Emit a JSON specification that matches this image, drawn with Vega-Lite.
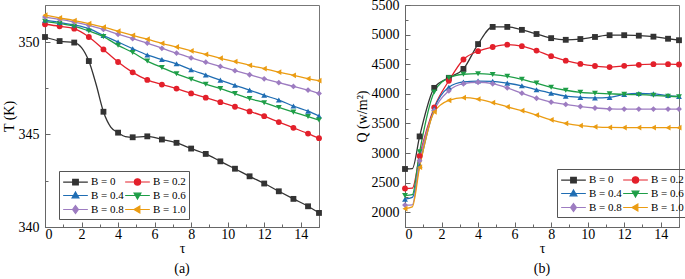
{
  "$schema": "https://vega.github.io/schema/vega-lite/v6.json",
  "padding": {"left": 1, "top": -3, "right": 0, "bottom": 0},
  "background": "white",
  "spacing": 31,
  "config": {
    "view": {"stroke": "#777", "strokeWidth": 1},
    "axis": {
      "grid": false,
      "domainColor": "#666",
      "tickColor": "#666",
      "labelFont": "Liberation Serif",
      "labelFontSize": 14,
      "labelColor": "black",
      "titleFont": "Liberation Serif",
      "titleFontSize": 14,
      "titleFontWeight": "normal",
      "titleColor": "black"
    },
    "title": {"font": "Liberation Serif", "fontSize": 14, "fontWeight": "normal", "color": "black"},
    "legend": {
      "labelFont": "Liberation Serif",
      "labelFontSize": 11,
      "labelColor": "black",
      "strokeColor": "#555",
      "padding": 3,
      "symbolSize": 169,
      "symbolStrokeWidth": 1.2,
      "symbolOffset": 6,
      "labelOffset": 8,
      "columnPadding": -12,
      "rowPadding": 0,
      "direction": "horizontal"
    }
  },
  "datasets": {
    "T": [
      {"t":0,"B":"B = 0","v":350.27,"m":1},{"t":0.8,"B":"B = 0","v":350.05,"m":1},{"t":1.6,"B":"B = 0","v":349.97,"m":1},{"t":2.0,"B":"B = 0","v":349.7,"m":0},{"t":2.4,"B":"B = 0","v":348.97,"m":1},{"t":2.8,"B":"B = 0","v":347.7,"m":0},{"t":3.2,"B":"B = 0","v":346.23,"m":1},{"t":3.6,"B":"B = 0","v":345.4,"m":0},{"t":4.0,"B":"B = 0","v":345.1,"m":1},{"t":4.4,"B":"B = 0","v":344.88,"m":0},{"t":4.8,"B":"B = 0","v":344.85,"m":1},{"t":5.6,"B":"B = 0","v":344.9,"m":1},{"t":6.4,"B":"B = 0","v":344.73,"m":1},{"t":7.2,"B":"B = 0","v":344.55,"m":1},{"t":8.0,"B":"B = 0","v":344.24,"m":1},{"t":8.8,"B":"B = 0","v":343.95,"m":1},{"t":9.6,"B":"B = 0","v":343.55,"m":1},{"t":10.4,"B":"B = 0","v":343.15,"m":1},{"t":11.2,"B":"B = 0","v":342.74,"m":1},{"t":12.0,"B":"B = 0","v":342.35,"m":1},{"t":12.8,"B":"B = 0","v":341.93,"m":1},{"t":13.6,"B":"B = 0","v":341.52,"m":1},{"t":14.4,"B":"B = 0","v":341.12,"m":1},{"t":15,"B":"B = 0","v":340.76,"m":1},

      {"t":0,"B":"B = 0.2","v":350.96,"m":1},{"t":0.8,"B":"B = 0.2","v":350.85,"m":1},{"t":1.6,"B":"B = 0.2","v":350.72,"m":1},{"t":2.4,"B":"B = 0.2","v":350.27,"m":1},{"t":3.2,"B":"B = 0.2","v":349.6,"m":1},{"t":4.0,"B":"B = 0.2","v":348.92,"m":1},{"t":4.8,"B":"B = 0.2","v":348.36,"m":1},{"t":5.6,"B":"B = 0.2","v":347.95,"m":1},{"t":6.4,"B":"B = 0.2","v":347.7,"m":1},{"t":7.2,"B":"B = 0.2","v":347.48,"m":1},{"t":8.0,"B":"B = 0.2","v":347.22,"m":1},{"t":8.8,"B":"B = 0.2","v":346.99,"m":1},{"t":9.6,"B":"B = 0.2","v":346.75,"m":1},{"t":10.4,"B":"B = 0.2","v":346.5,"m":1},{"t":11.2,"B":"B = 0.2","v":346.25,"m":1},{"t":12.0,"B":"B = 0.2","v":345.99,"m":1},{"t":12.8,"B":"B = 0.2","v":345.67,"m":1},{"t":13.6,"B":"B = 0.2","v":345.36,"m":1},{"t":14.4,"B":"B = 0.2","v":345.05,"m":1},{"t":15,"B":"B = 0.2","v":344.8,"m":1},

      {"t":0,"B":"B = 0.4","v":351.18,"m":1},{"t":0.8,"B":"B = 0.4","v":351.06,"m":1},{"t":1.6,"B":"B = 0.4","v":350.92,"m":1},{"t":2.4,"B":"B = 0.4","v":350.72,"m":1},{"t":3.2,"B":"B = 0.4","v":350.35,"m":1},{"t":4.0,"B":"B = 0.4","v":350.0,"m":1},{"t":4.8,"B":"B = 0.4","v":349.64,"m":1},{"t":5.6,"B":"B = 0.4","v":349.3,"m":1},{"t":6.4,"B":"B = 0.4","v":349.05,"m":1},{"t":7.2,"B":"B = 0.4","v":348.82,"m":1},{"t":8.0,"B":"B = 0.4","v":348.5,"m":1},{"t":8.8,"B":"B = 0.4","v":348.22,"m":1},{"t":9.6,"B":"B = 0.4","v":347.94,"m":1},{"t":10.4,"B":"B = 0.4","v":347.66,"m":1},{"t":11.2,"B":"B = 0.4","v":347.4,"m":1},{"t":12.0,"B":"B = 0.4","v":347.12,"m":1},{"t":12.8,"B":"B = 0.4","v":346.86,"m":1},{"t":13.6,"B":"B = 0.4","v":346.54,"m":1},{"t":14.4,"B":"B = 0.4","v":346.26,"m":1},{"t":15,"B":"B = 0.4","v":346.0,"m":1},

      {"t":0,"B":"B = 0.6","v":351.12,"m":1},{"t":0.8,"B":"B = 0.6","v":351.0,"m":1},{"t":1.6,"B":"B = 0.6","v":350.85,"m":1},{"t":2.4,"B":"B = 0.6","v":350.6,"m":1},{"t":3.2,"B":"B = 0.6","v":350.29,"m":1},{"t":4.0,"B":"B = 0.6","v":349.82,"m":1},{"t":4.8,"B":"B = 0.6","v":349.43,"m":1},{"t":5.6,"B":"B = 0.6","v":348.97,"m":1},{"t":6.4,"B":"B = 0.6","v":348.62,"m":1},{"t":7.2,"B":"B = 0.6","v":348.28,"m":1},{"t":8.0,"B":"B = 0.6","v":347.99,"m":1},{"t":8.8,"B":"B = 0.6","v":347.72,"m":1},{"t":9.6,"B":"B = 0.6","v":347.48,"m":1},{"t":10.4,"B":"B = 0.6","v":347.21,"m":1},{"t":11.2,"B":"B = 0.6","v":346.94,"m":1},{"t":12.0,"B":"B = 0.6","v":346.72,"m":1},{"t":12.8,"B":"B = 0.6","v":346.46,"m":1},{"t":13.6,"B":"B = 0.6","v":346.21,"m":1},{"t":14.4,"B":"B = 0.6","v":345.97,"m":1},{"t":15,"B":"B = 0.6","v":345.78,"m":1},

      {"t":0,"B":"B = 0.8","v":351.35,"m":1},{"t":0.8,"B":"B = 0.8","v":351.22,"m":1},{"t":1.6,"B":"B = 0.8","v":351.08,"m":1},{"t":2.4,"B":"B = 0.8","v":350.9,"m":1},{"t":3.2,"B":"B = 0.8","v":350.68,"m":1},{"t":4.0,"B":"B = 0.8","v":350.42,"m":1},{"t":4.8,"B":"B = 0.8","v":350.18,"m":1},{"t":5.6,"B":"B = 0.8","v":349.94,"m":1},{"t":6.4,"B":"B = 0.8","v":349.66,"m":1},{"t":7.2,"B":"B = 0.8","v":349.4,"m":1},{"t":8.0,"B":"B = 0.8","v":349.14,"m":1},{"t":8.8,"B":"B = 0.8","v":348.91,"m":1},{"t":9.6,"B":"B = 0.8","v":348.68,"m":1},{"t":10.4,"B":"B = 0.8","v":348.45,"m":1},{"t":11.2,"B":"B = 0.8","v":348.23,"m":1},{"t":12.0,"B":"B = 0.8","v":348.01,"m":1},{"t":12.8,"B":"B = 0.8","v":347.8,"m":1},{"t":13.6,"B":"B = 0.8","v":347.6,"m":1},{"t":14.4,"B":"B = 0.8","v":347.4,"m":1},{"t":15,"B":"B = 0.8","v":347.22,"m":1},

      {"t":0,"B":"B = 1.0","v":351.45,"m":1},{"t":0.8,"B":"B = 1.0","v":351.3,"m":1},{"t":1.6,"B":"B = 1.0","v":351.16,"m":1},{"t":2.4,"B":"B = 1.0","v":350.99,"m":1},{"t":3.2,"B":"B = 1.0","v":350.8,"m":1},{"t":4.0,"B":"B = 1.0","v":350.58,"m":1},{"t":4.8,"B":"B = 1.0","v":350.36,"m":1},{"t":5.6,"B":"B = 1.0","v":350.15,"m":1},{"t":6.4,"B":"B = 1.0","v":349.93,"m":1},{"t":7.2,"B":"B = 1.0","v":349.73,"m":1},{"t":8.0,"B":"B = 1.0","v":349.52,"m":1},{"t":8.8,"B":"B = 1.0","v":349.33,"m":1},{"t":9.6,"B":"B = 1.0","v":349.12,"m":1},{"t":10.4,"B":"B = 1.0","v":348.94,"m":1},{"t":11.2,"B":"B = 1.0","v":348.74,"m":1},{"t":12.0,"B":"B = 1.0","v":348.56,"m":1},{"t":12.8,"B":"B = 1.0","v":348.37,"m":1},{"t":13.6,"B":"B = 1.0","v":348.2,"m":1},{"t":14.4,"B":"B = 1.0","v":348.02,"m":1},{"t":15,"B":"B = 1.0","v":347.91,"m":1}
    ],
    "Q": [
      {"t":0,"B":"B = 0","v":2730,"m":1},{"t":0.4,"B":"B = 0","v":2735,"m":0},{"t":0.8,"B":"B = 0","v":3280,"m":1},{"t":1.6,"B":"B = 0","v":4100,"m":1},{"t":2.4,"B":"B = 0","v":4270,"m":1},{"t":3.2,"B":"B = 0","v":4420,"m":1},{"t":4.0,"B":"B = 0","v":4840,"m":1},{"t":4.8,"B":"B = 0","v":5130,"m":1},{"t":5.6,"B":"B = 0","v":5130,"m":1},{"t":6.4,"B":"B = 0","v":5080,"m":1},{"t":7.2,"B":"B = 0","v":5010,"m":1},{"t":8.0,"B":"B = 0","v":4940,"m":1},{"t":8.8,"B":"B = 0","v":4912,"m":1},{"t":9.6,"B":"B = 0","v":4925,"m":1},{"t":10.4,"B":"B = 0","v":4960,"m":1},{"t":11.2,"B":"B = 0","v":4990,"m":1},{"t":12.0,"B":"B = 0","v":4990,"m":1},{"t":12.8,"B":"B = 0","v":4982,"m":1},{"t":13.6,"B":"B = 0","v":4965,"m":1},{"t":14.4,"B":"B = 0","v":4930,"m":1},{"t":15,"B":"B = 0","v":4905,"m":1},

      {"t":0,"B":"B = 0.2","v":2400,"m":1},{"t":0.4,"B":"B = 0.2","v":2405,"m":0},{"t":0.8,"B":"B = 0.2","v":2950,"m":1},{"t":1.6,"B":"B = 0.2","v":3770,"m":1},{"t":2.4,"B":"B = 0.2","v":4220,"m":1},{"t":3.2,"B":"B = 0.2","v":4580,"m":1},{"t":4.0,"B":"B = 0.2","v":4720,"m":1},{"t":4.8,"B":"B = 0.2","v":4790,"m":1},{"t":5.6,"B":"B = 0.2","v":4830,"m":1},{"t":6.4,"B":"B = 0.2","v":4805,"m":1},{"t":7.2,"B":"B = 0.2","v":4730,"m":1},{"t":8.0,"B":"B = 0.2","v":4635,"m":1},{"t":8.8,"B":"B = 0.2","v":4560,"m":1},{"t":9.6,"B":"B = 0.2","v":4505,"m":1},{"t":10.4,"B":"B = 0.2","v":4470,"m":1},{"t":11.2,"B":"B = 0.2","v":4452,"m":1},{"t":12.0,"B":"B = 0.2","v":4472,"m":1},{"t":12.8,"B":"B = 0.2","v":4490,"m":1},{"t":13.6,"B":"B = 0.2","v":4500,"m":1},{"t":14.4,"B":"B = 0.2","v":4500,"m":1},{"t":15,"B":"B = 0.2","v":4495,"m":1},

      {"t":0,"B":"B = 0.4","v":2220,"m":1},{"t":0.4,"B":"B = 0.4","v":2250,"m":0},{"t":0.8,"B":"B = 0.4","v":2790,"m":1},{"t":1.6,"B":"B = 0.4","v":3750,"m":1},{"t":2.4,"B":"B = 0.4","v":4110,"m":1},{"t":3.2,"B":"B = 0.4","v":4200,"m":1},{"t":4.0,"B":"B = 0.4","v":4215,"m":1},{"t":4.8,"B":"B = 0.4","v":4210,"m":1},{"t":5.6,"B":"B = 0.4","v":4180,"m":1},{"t":6.4,"B":"B = 0.4","v":4135,"m":1},{"t":7.2,"B":"B = 0.4","v":4070,"m":1},{"t":8.0,"B":"B = 0.4","v":4010,"m":1},{"t":8.8,"B":"B = 0.4","v":3960,"m":1},{"t":9.6,"B":"B = 0.4","v":3940,"m":1},{"t":10.4,"B":"B = 0.4","v":3930,"m":1},{"t":11.2,"B":"B = 0.4","v":3940,"m":1},{"t":12.0,"B":"B = 0.4","v":3990,"m":1},{"t":12.8,"B":"B = 0.4","v":4005,"m":1},{"t":13.6,"B":"B = 0.4","v":4000,"m":1},{"t":14.4,"B":"B = 0.4","v":3970,"m":1},{"t":15,"B":"B = 0.4","v":3955,"m":1},

      {"t":0,"B":"B = 0.6","v":2280,"m":1},{"t":0.4,"B":"B = 0.6","v":2295,"m":0},{"t":0.8,"B":"B = 0.6","v":3020,"m":1},{"t":1.6,"B":"B = 0.6","v":4030,"m":1},{"t":2.4,"B":"B = 0.6","v":4270,"m":1},{"t":3.2,"B":"B = 0.6","v":4330,"m":1},{"t":4.0,"B":"B = 0.6","v":4340,"m":1},{"t":4.8,"B":"B = 0.6","v":4325,"m":1},{"t":5.6,"B":"B = 0.6","v":4295,"m":1},{"t":6.4,"B":"B = 0.6","v":4245,"m":1},{"t":7.2,"B":"B = 0.6","v":4180,"m":1},{"t":8.0,"B":"B = 0.6","v":4110,"m":1},{"t":8.8,"B":"B = 0.6","v":4060,"m":1},{"t":9.6,"B":"B = 0.6","v":4025,"m":1},{"t":10.4,"B":"B = 0.6","v":4010,"m":1},{"t":11.2,"B":"B = 0.6","v":4000,"m":1},{"t":12.0,"B":"B = 0.6","v":3990,"m":1},{"t":12.8,"B":"B = 0.6","v":3985,"m":1},{"t":13.6,"B":"B = 0.6","v":3975,"m":1},{"t":14.4,"B":"B = 0.6","v":3960,"m":1},{"t":15,"B":"B = 0.6","v":3950,"m":1},

      {"t":0,"B":"B = 0.8","v":2120,"m":1},{"t":0.4,"B":"B = 0.8","v":2125,"m":0},{"t":0.8,"B":"B = 0.8","v":2870,"m":1},{"t":1.6,"B":"B = 0.8","v":3720,"m":1},{"t":2.4,"B":"B = 0.8","v":4050,"m":1},{"t":3.2,"B":"B = 0.8","v":4170,"m":1},{"t":4.0,"B":"B = 0.8","v":4195,"m":1},{"t":4.8,"B":"B = 0.8","v":4170,"m":1},{"t":5.6,"B":"B = 0.8","v":4100,"m":1},{"t":6.4,"B":"B = 0.8","v":4010,"m":1},{"t":7.2,"B":"B = 0.8","v":3925,"m":1},{"t":8.0,"B":"B = 0.8","v":3860,"m":1},{"t":8.8,"B":"B = 0.8","v":3820,"m":1},{"t":9.6,"B":"B = 0.8","v":3785,"m":1},{"t":10.4,"B":"B = 0.8","v":3760,"m":1},{"t":11.2,"B":"B = 0.8","v":3745,"m":1},{"t":12.0,"B":"B = 0.8","v":3742,"m":1},{"t":12.8,"B":"B = 0.8","v":3742,"m":1},{"t":13.6,"B":"B = 0.8","v":3742,"m":1},{"t":14.4,"B":"B = 0.8","v":3742,"m":1},{"t":15,"B":"B = 0.8","v":3742,"m":1},

      {"t":0,"B":"B = 1.0","v":2060,"m":1},{"t":0.4,"B":"B = 1.0","v":2090,"m":0},{"t":0.8,"B":"B = 1.0","v":2760,"m":1},{"t":1.6,"B":"B = 1.0","v":3695,"m":1},{"t":2.4,"B":"B = 1.0","v":3890,"m":1},{"t":3.2,"B":"B = 1.0","v":3935,"m":1},{"t":4.0,"B":"B = 1.0","v":3910,"m":1},{"t":4.8,"B":"B = 1.0","v":3850,"m":1},{"t":5.6,"B":"B = 1.0","v":3780,"m":1},{"t":6.4,"B":"B = 1.0","v":3715,"m":1},{"t":7.2,"B":"B = 1.0","v":3640,"m":1},{"t":8.0,"B":"B = 1.0","v":3560,"m":1},{"t":8.8,"B":"B = 1.0","v":3500,"m":1},{"t":9.6,"B":"B = 1.0","v":3462,"m":1},{"t":10.4,"B":"B = 1.0","v":3442,"m":1},{"t":11.2,"B":"B = 1.0","v":3432,"m":1},{"t":12.0,"B":"B = 1.0","v":3430,"m":1},{"t":12.8,"B":"B = 1.0","v":3430,"m":1},{"t":13.6,"B":"B = 1.0","v":3430,"m":1},{"t":14.4,"B":"B = 1.0","v":3428,"m":1},{"t":15,"B":"B = 1.0","v":3428,"m":1}
    ]
  },
  "hconcat": [
    {
      "width": 274,
      "height": 222,
      "data": {"name": "T"},
      "title": {"text": "(a)", "orient": "bottom", "offset": 7},
      "encoding": {
        "x": {"field": "t", "type": "quantitative", "scale": {"domain": [0, 15], "nice": false, "zero": false},
          "axis": {"title": "τ", "values": [0,1,2,3,4,5,6,7,8,9,10,11,12,13,14,15],
            "labelExpr": "datum.value % 2 == 0 && datum.value < 15 ? datum.label : ''",
            "tickSize": {"condition": {"test": "datum.value % 2 != 0", "value": -3}, "value": -5},
            "labelPadding": 5, "titlePadding": 0}},
        "y": {"field": "v", "type": "quantitative", "scale": {"domain": [340, 352], "nice": false, "zero": false},
          "axis": {"title": "T (K)", "values": [340, 342.5, 345, 347.5, 350],
            "labelExpr": "datum.value % 5 == 0 ? datum.label : ''",
            "tickSize": {"condition": {"test": "datum.value % 5 != 0", "value": -3}, "value": -5},
            "labelPadding": 11, "titlePadding": 2}}
      },
      "layer": [
        {"mark": {"type": "line", "strokeWidth": 1.3, "interpolate": "monotone"},
          "encoding": {"color": {"field": "B", "type": "nominal", "legend": null,
            "scale": {"domain": ["B = 0","B = 0.2","B = 0.4","B = 0.6","B = 0.8","B = 1.0"], "range": ["#333333","#e3202b","#1f6db3","#1e9e47","#9d7cc1","#eb9c12"]}}}},
        {"transform": [{"filter": "datum.m == 1"}],
          "mark": {"type": "point", "filled": true, "size": 34, "opacity": 1},
          "encoding": {
            "color": {"field": "B", "type": "nominal", "legend": null},
            "shape": {"field": "B", "type": "nominal", "legend": null,
              "scale": {"domain": ["B = 0","B = 0.2","B = 0.4","B = 0.6","B = 0.8","B = 1.0"], "range": ["square","circle","triangle-up","triangle-down","diamond","triangle-left"]}}}},
        {"transform": [{"filter": "datum.m == 5"}],
          "mark": {"type": "point", "filled": true, "opacity": 1},
          "encoding": {
            "fill": {"field": "B", "type": "nominal",
              "scale": {"domain": ["B = 0","B = 0.2","B = 0.4","B = 0.6","B = 0.8","B = 1.0"], "range": ["#333333","#e3202b","#1f6db3","#1e9e47","#9d7cc1","#eb9c12"]},
              "legend": {"orient": "none", "legendX": 14, "legendY": 166, "columns": 2, "title": null}},
            "stroke": {"field": "B", "type": "nominal",
              "scale": {"domain": ["B = 0","B = 0.2","B = 0.4","B = 0.6","B = 0.8","B = 1.0"], "range": ["#333333","#e3202b","#1f6db3","#1e9e47","#9d7cc1","#eb9c12"]},
              "legend": {"orient": "none", "legendX": 14, "legendY": 166, "columns": 2, "title": null}},
            "shape": {"field": "B", "type": "nominal",
              "scale": {"domain": ["B = 0","B = 0.2","B = 0.4","B = 0.6","B = 0.8","B = 1.0"], "range": [
                "M-1.9,0H1.9M-0.43,-0.43H0.43V0.43H-0.43Z",
                "M-1.9,0H1.9M-0.48,0A0.48,0.48,0,1,0,0.48,0A0.48,0.48,0,1,0,-0.48,0Z",
                "M-1.9,0H1.9M0,-0.54L0.52,0.36H-0.52Z",
                "M-1.9,0H1.9M0,0.54L0.52,-0.36H-0.52Z",
                "M-1.9,0H1.9M0,-0.6L0.45,0L0,0.6L-0.45,0Z",
                "M-1.9,0H1.9M-0.54,0L0.36,-0.52V0.52Z"]},
              "legend": {"orient": "none", "legendX": 14, "legendY": 166, "columns": 2, "title": null}}}}
      ],
      "resolve": {"scale": {"shape": "independent", "fill": "independent", "stroke": "independent"},
                  "legend": {"shape": "independent", "fill": "independent", "stroke": "independent"}}
    },
    {
      "width": 274,
      "height": 222,
      "data": {"name": "Q"},
      "title": {"text": "(b)", "orient": "bottom", "offset": 7},
      "encoding": {
        "x": {"field": "t", "type": "quantitative", "scale": {"domain": [0, 15], "nice": false, "zero": false},
          "axis": {"title": "τ", "values": [0,1,2,3,4,5,6,7,8,9,10,11,12,13,14,15],
            "labelExpr": "datum.value % 2 == 0 && datum.value < 15 ? datum.label : ''",
            "tickSize": {"condition": {"test": "datum.value % 2 != 0", "value": -3}, "value": -5},
            "labelPadding": 5, "titlePadding": 0}},
        "y": {"field": "v", "type": "quantitative", "scale": {"domain": [1750, 5500], "nice": false, "zero": false},
          "axis": {"title": "Q (w/m²)", "values": [2000,2250,2500,2750,3000,3250,3500,3750,4000,4250,4500,4750,5000,5250,5500],
            "labelExpr": "datum.value % 500 == 0 ? datum.label : ''", "format": "d",
            "tickSize": {"condition": {"test": "datum.value % 500 != 0", "value": -3}, "value": -5},
            "labelPadding": 11, "titlePadding": 2}}
      },
      "layer": [
        {"mark": {"type": "line", "strokeWidth": 1.3, "interpolate": "monotone"},
          "encoding": {"color": {"field": "B", "type": "nominal", "legend": null,
            "scale": {"domain": ["B = 0","B = 0.2","B = 0.4","B = 0.6","B = 0.8","B = 1.0"], "range": ["#333333","#e3202b","#1f6db3","#1e9e47","#9d7cc1","#eb9c12"]}}}},
        {"transform": [{"filter": "datum.m == 1"}],
          "mark": {"type": "point", "filled": true, "size": 34, "opacity": 1},
          "encoding": {
            "color": {"field": "B", "type": "nominal", "legend": null},
            "shape": {"field": "B", "type": "nominal", "legend": null,
              "scale": {"domain": ["B = 0","B = 0.2","B = 0.4","B = 0.6","B = 0.8","B = 1.0"], "range": ["square","circle","triangle-up","triangle-down","diamond","triangle-left"]}}}},
        {"transform": [{"filter": "datum.m == 5"}],
          "mark": {"type": "point", "filled": true, "opacity": 1},
          "encoding": {
            "fill": {"field": "B", "type": "nominal",
              "scale": {"domain": ["B = 0","B = 0.2","B = 0.4","B = 0.6","B = 0.8","B = 1.0"], "range": ["#333333","#e3202b","#1f6db3","#1e9e47","#9d7cc1","#eb9c12"]},
              "legend": {"orient": "none", "legendX": 152, "legendY": 164, "columns": 2, "title": null}},
            "stroke": {"field": "B", "type": "nominal",
              "scale": {"domain": ["B = 0","B = 0.2","B = 0.4","B = 0.6","B = 0.8","B = 1.0"], "range": ["#333333","#e3202b","#1f6db3","#1e9e47","#9d7cc1","#eb9c12"]},
              "legend": {"orient": "none", "legendX": 152, "legendY": 164, "columns": 2, "title": null}},
            "shape": {"field": "B", "type": "nominal",
              "scale": {"domain": ["B = 0","B = 0.2","B = 0.4","B = 0.6","B = 0.8","B = 1.0"], "range": [
                "M-1.9,0H1.9M-0.43,-0.43H0.43V0.43H-0.43Z",
                "M-1.9,0H1.9M-0.48,0A0.48,0.48,0,1,0,0.48,0A0.48,0.48,0,1,0,-0.48,0Z",
                "M-1.9,0H1.9M0,-0.54L0.52,0.36H-0.52Z",
                "M-1.9,0H1.9M0,0.54L0.52,-0.36H-0.52Z",
                "M-1.9,0H1.9M0,-0.6L0.45,0L0,0.6L-0.45,0Z",
                "M-1.9,0H1.9M-0.54,0L0.36,-0.52V0.52Z"]},
              "legend": {"orient": "none", "legendX": 152, "legendY": 164, "columns": 2, "title": null}}}}
      ],
      "resolve": {"scale": {"shape": "independent", "fill": "independent", "stroke": "independent"},
                  "legend": {"shape": "independent", "fill": "independent", "stroke": "independent"}}
    }
  ],
  "resolve": {"scale": {"y": "independent", "color": "shared"}}
}
